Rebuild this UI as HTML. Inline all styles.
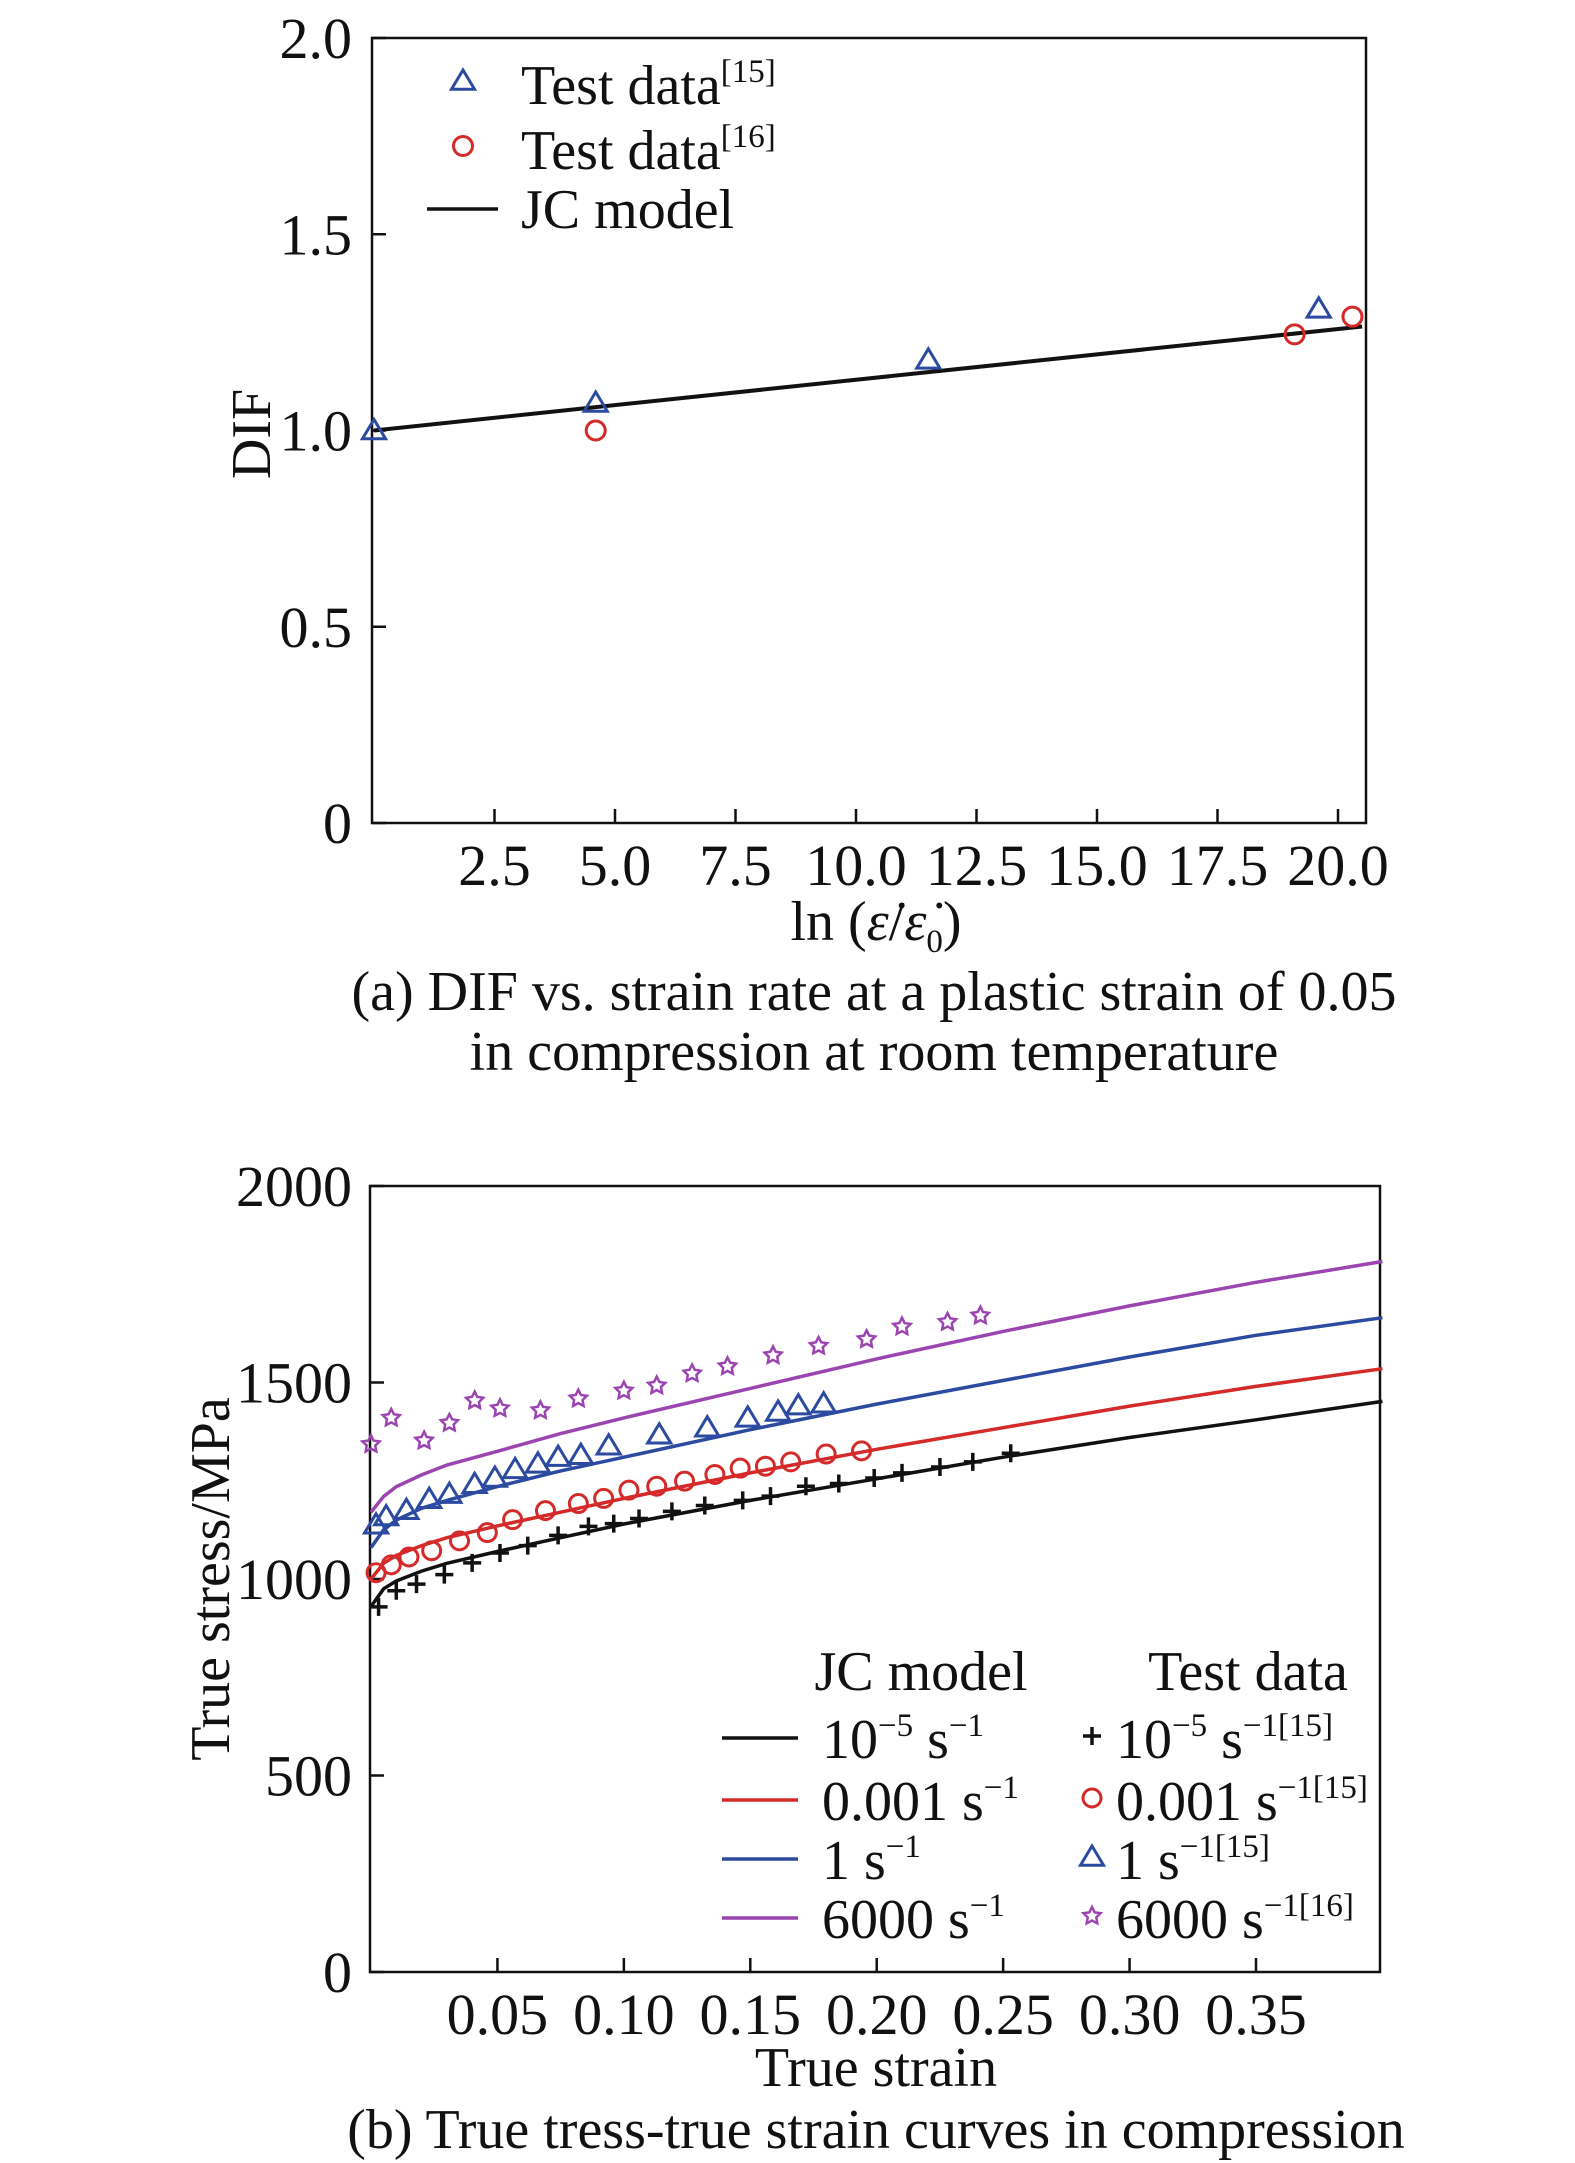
<!DOCTYPE html>
<html><head><meta charset="utf-8"><style>
html,body{margin:0;padding:0;background:#fff;}
svg{display:block;font-family:"Liberation Serif",serif;}
</style></head><body>
<svg id="svg" width="1575" height="2163" viewBox="0 0 1575 2163" xmlns="http://www.w3.org/2000/svg">
<g id="ga"></g>
<g id="gb"></g>
</svg>
<script>
// ---- Chart (a) data ----
const aTicksX = [2.5, 5.0, 7.5, 10.0, 12.5, 15.0, 17.5, 20.0];
const aTicksY = [0, 0.5, 1.0, 1.5, 2.0];
const aTriX = [0, 4.6, 11.5, 19.6];
const aTriY = [1.0, 1.07, 1.18, 1.31];
const aCirX = [4.6, 19.1, 20.3];
const aCirY = [1.0, 1.245, 1.29];
const aLineX = [0, 20.5];
const aLineY = [1.0, 1.265];
// ---- Chart (b) data ----
const bTicksX = [0.05, 0.10, 0.15, 0.20, 0.25, 0.30, 0.35];
const bTicksY = [0, 500, 1000, 1500, 2000];
const bModelX = [0, 0.005, 0.01, 0.02, 0.03, 0.05, 0.075, 0.1, 0.15, 0.2, 0.25, 0.3, 0.35, 0.4];
const bModelBlack = [930, 975, 995, 1020, 1040, 1070, 1105, 1140, 1200, 1255, 1310, 1360, 1405, 1452];
const bModelRed = [1000, 1040, 1060, 1085, 1105, 1135, 1170, 1205, 1270, 1330, 1385, 1440, 1490, 1535];
const bModelBlue = [1080, 1125, 1150, 1180, 1200, 1235, 1275, 1310, 1380, 1445, 1505, 1565, 1620, 1665];
const bModelPurple = [1170, 1210, 1235, 1265, 1290, 1325, 1370, 1410, 1485, 1560, 1630, 1695, 1755, 1808];
const bPlusX = [0.003,0.010,0.018,0.029,0.040,0.051,0.062,0.074,0.086,0.096,0.106,0.119,0.132,0.147,0.158,0.172,0.185,0.199,0.210,0.225,0.238,0.253];
const bPlusY = [929,970,987,1011,1041,1066,1085,1111,1134,1141,1154,1172,1187,1200,1211,1236,1243,1257,1270,1285,1298,1320];
const bCirX = [0.002,0.008,0.015,0.024,0.035,0.046,0.056,0.069,0.082,0.092,0.102,0.113,0.124,0.136,0.146,0.156,0.166,0.180,0.194];
const bCirY = [1016,1036,1056,1072,1097,1118,1151,1174,1192,1205,1226,1236,1249,1266,1282,1287,1298,1318,1326];
const bTriX = [0.002,0.006,0.014,0.023,0.031,0.041,0.049,0.057,0.066,0.074,0.083,0.094,0.114,0.133,0.149,0.161,0.169,0.179];
const bTriY = [1138,1159,1175,1203,1216,1241,1257,1279,1293,1310,1315,1339,1367,1385,1410,1425,1441,1446];
const bStarX = [0.000,0.008,0.021,0.031,0.041,0.051,0.067,0.082,0.100,0.113,0.127,0.141,0.159,0.177,0.196,0.210,0.228,0.241];
const bStarY = [1343,1410,1352,1397,1454,1434,1429,1459,1479,1492,1523,1541,1569,1593,1610,1642,1654,1670];

const NS = "http://www.w3.org/2000/svg";
const BLUE = "#2b4aa0", RED = "#d42a2a", PURP = "#9b45b0";
const FT = 58, FL = 56, FS = 33;
function mk(parent, tag, attrs, text){
  const e = document.createElementNS(NS, tag);
  for (const k in attrs) e.setAttribute(k, attrs[k]);
  if (text !== undefined) e.innerHTML = text;
  parent.appendChild(e);
  return e;
}
function tri(g, x, y, color, r){
  return mk(g, "polygon", {points:`${x},${y-r} ${x-r*1.05},${y+r*0.75} ${x+r*1.05},${y+r*0.75}`, fill:"none", stroke:color, "stroke-width":3});
}
function circ(g, x, y, color, r){
  return mk(g, "circle", {cx:x, cy:y, r:r, fill:"none", stroke:color, "stroke-width":3});
}
function plus(g, x, y, r){
  return mk(g, "path", {d:`M${x-r},${y}H${x+r}M${x},${y-r}V${y+r}`, stroke:"#111", "stroke-width":3.5, fill:"none"});
}
function star(g, x, y, color, R){
  let p = [];
  for (let i=0;i<10;i++){ const a = -Math.PI/2 + i*Math.PI/5; const r = i%2?R*0.5:R; p.push((x+r*Math.cos(a)).toFixed(1)+","+(y+r*Math.sin(a)).toFixed(1)); }
  return mk(g, "polygon", {points:p.join(" "), fill:"none", stroke:color, "stroke-width":2.5});
}

// ===== Chart (a) =====
(function(){
  const g = document.getElementById("ga");
  const L=372, R=1366, T=38, B=823;
  const sx = v => 374 + v*(1338-374)/20;
  const sy = v => B - v*(B-T)/2;
  const frame = mk(g, "rect", {x:L, y:T, width:R-L, height:B-T, fill:"none", stroke:"#111", "stroke-width":2.5});
  
  
  aTicksX.forEach(v => {
    const t = mk(g, "line", {x1:sx(v), x2:sx(v), y1:B, y2:B-14, stroke:"#111", "stroke-width":2.5});
    
    
    const l = mk(g, "text", {x:sx(v), y:B+62, "font-size":FT, "text-anchor":"middle", fill:"#111"}, v.toFixed(1));
    
    
  });
  aTicksY.forEach(v => {
    const t = mk(g, "line", {x1:L, x2:L+14, y1:sy(v), y2:sy(v), stroke:"#111", "stroke-width":2.5});
    
    
    const l = mk(g, "text", {x:352, y:sy(v)+20, "font-size":FT, "text-anchor":"end", fill:"#111"}, v===0?"0":v.toFixed(1));
    
    
  });
  const ln = mk(g, "line", {x1:sx(aLineX[0]), y1:sy(aLineY[0]), x2:sx(aLineX[1]), y2:sy(aLineY[1]), stroke:"#111", "stroke-width":4});
  
  
  aTriX.forEach((v,i) => {
    const m = tri(g, sx(v), sy(aTriY[i]), BLUE, 11);
    
    
  });
  aCirX.forEach((v,i) => {
    const m = circ(g, sx(v), sy(aCirY[i]), RED, 9.5);
    
    
  });
  const lg = mk(g, "g", {});
  
  
  tri(lg, 463, 81, BLUE, 11);
  mk(lg, "text", {x:521, y:104, "font-size":FL, fill:"#111"}, 'Test data<tspan dy="-22" font-size="'+FS+'">[15]</tspan>');
  circ(lg, 463, 146, RED, 9.5);
  mk(lg, "text", {x:521, y:169, "font-size":FL, fill:"#111"}, 'Test data<tspan dy="-22" font-size="'+FS+'">[16]</tspan>');
  mk(lg, "line", {x1:427, x2:498, y1:209, y2:209, stroke:"#111", "stroke-width":3.5});
  mk(lg, "text", {x:521, y:228, "font-size":FL, fill:"#111"}, 'JC model');
  const yl = mk(g, "text", {x:0, y:0, "font-size":FL, "text-anchor":"middle", fill:"#111", transform:"translate(270,434) rotate(-90)"}, "DIF");
  
  
  const xl = mk(g, "text", {x:876, y:940, "font-size":FL, "text-anchor":"middle", fill:"#111"}, 'ln (<tspan font-style="italic">ε̇</tspan>/<tspan font-style="italic">ε̇</tspan><tspan dy="12" font-size="'+FS+'">0</tspan><tspan dy="-12">)</tspan>');
  
  
  const c1 = mk(g, "text", {x:874, y:1010, "font-size":FL, "text-anchor":"middle", fill:"#111"}, "(a) DIF vs. strain rate at a plastic strain of 0.05");
  
  
  const c2 = mk(g, "text", {x:874, y:1070, "font-size":FL, "text-anchor":"middle", fill:"#111"}, "in compression at room temperature");
  
  
})();

// ===== Chart (b) =====
(function(){
  const g = document.getElementById("gb");
  const L=370, R=1380, T=1186, B=1972;
  const sx = v => 371 + v*(1256-371)/0.35;
  const sy = v => B - v*(B-T)/2000;
  const frame = mk(g, "rect", {x:L, y:T, width:R-L, height:B-T, fill:"none", stroke:"#111", "stroke-width":2.5});
  
  
  bTicksX.forEach(v => {
    const t = mk(g, "line", {x1:sx(v), x2:sx(v), y1:B, y2:B-14, stroke:"#111", "stroke-width":2.5});
    
    
    const l = mk(g, "text", {x:sx(v), y:B+62, "font-size":FT, "text-anchor":"middle", fill:"#111"}, v.toFixed(2));
    
    
  });
  bTicksY.forEach(v => {
    const t = mk(g, "line", {x1:L, x2:L+14, y1:sy(v), y2:sy(v), stroke:"#111", "stroke-width":2.5});
    
    
    const l = mk(g, "text", {x:352, y:sy(v)+20, "font-size":FT, "text-anchor":"end", fill:"#111"}, String(v));
    
    
  });
  const curves = [[bModelBlack,"#111","jc-curve-1e-5"],[bModelRed,RED,"jc-curve-0.001"],[bModelBlue,BLUE,"jc-curve-1"],[bModelPurple,PURP,"jc-curve-6000"]];
  curves.forEach(c => {
    const d = bModelX.map((x,i)=>(i?"L":"M")+sx(x).toFixed(1)+","+sy(c[0][i]).toFixed(1)).join("");
    const p = mk(g, "path", {d:d, fill:"none", stroke:c[1], "stroke-width":3.5});
    
    
  });
  bPlusX.forEach((v,i) => {
    const m = plus(g, sx(v), sy(bPlusY[i]), 9);
    
    
  });
  bCirX.forEach((v,i) => {
    const m = circ(g, sx(v), sy(bCirY[i]), RED, 9);
    
    
  });
  bTriX.forEach((v,i) => {
    const m = tri(g, sx(v), sy(bTriY[i]), BLUE, 11);
    
    
  });
  bStarX.forEach((v,i) => {
    const m = star(g, sx(v), sy(bStarY[i]), PURP, 9);
    
    
  });
  const lg = mk(g, "g", {});
  
  
  mk(lg, "text", {x:921, y:1690, "font-size":FL, "text-anchor":"middle", fill:"#111"}, "JC model");
  mk(lg, "text", {x:1248, y:1690, "font-size":FL, "text-anchor":"middle", fill:"#111"}, "Test data");
  const rows = [1752, 1814, 1873, 1932];
  const cols = ["#111", RED, BLUE, PURP];
  const sup = s => '<tspan dy="-22" font-size="'+FS+'">'+s+'</tspan>';
  const labs = ['10'+sup('−5')+'<tspan dy="22"> s</tspan>'+sup('−1'),
                '0.001 s'+sup('−1'), '1 s'+sup('−1'), '6000 s'+sup('−1')];
  const labs2 = ['10'+sup('−5')+'<tspan dy="22"> s</tspan>'+sup('−1[15]'),
                 '0.001 s'+sup('−1[15]'), '1 s'+sup('−1[15]'), '6000 s'+sup('−1[16]')];
  rows.forEach((y,i) => {
    mk(lg, "line", {x1:722, x2:798, y1:y-14, y2:y-14, stroke:cols[i], "stroke-width":3.5});
    mk(lg, "text", {x:822, y:y+6, "font-size":FL, fill:"#111"}, labs[i]);
    const mx = 1092, my = y-16;
    if (i===0) plus(lg, mx, my, 9);
    if (i===1) circ(lg, mx, my, RED, 9);
    if (i===2) tri(lg, mx, my, BLUE, 11);
    if (i===3) star(lg, mx, my, PURP, 9);
    mk(lg, "text", {x:1116, y:y+6, "font-size":FL, fill:"#111"}, labs2[i]);
  });
  const yl = mk(g, "text", {x:0, y:0, "font-size":FL, "text-anchor":"middle", fill:"#111", transform:"translate(229,1579) rotate(-90)"}, "True stress/MPa");
  
  
  const xl = mk(g, "text", {x:876, y:2086, "font-size":FL, "text-anchor":"middle", fill:"#111"}, "True strain");
  
  
  const c = mk(g, "text", {x:876, y:2148, "font-size":FL, "text-anchor":"middle", fill:"#111"}, "(b) True tress-true strain curves in compression");
  
  
})();
</script>
</body></html>
